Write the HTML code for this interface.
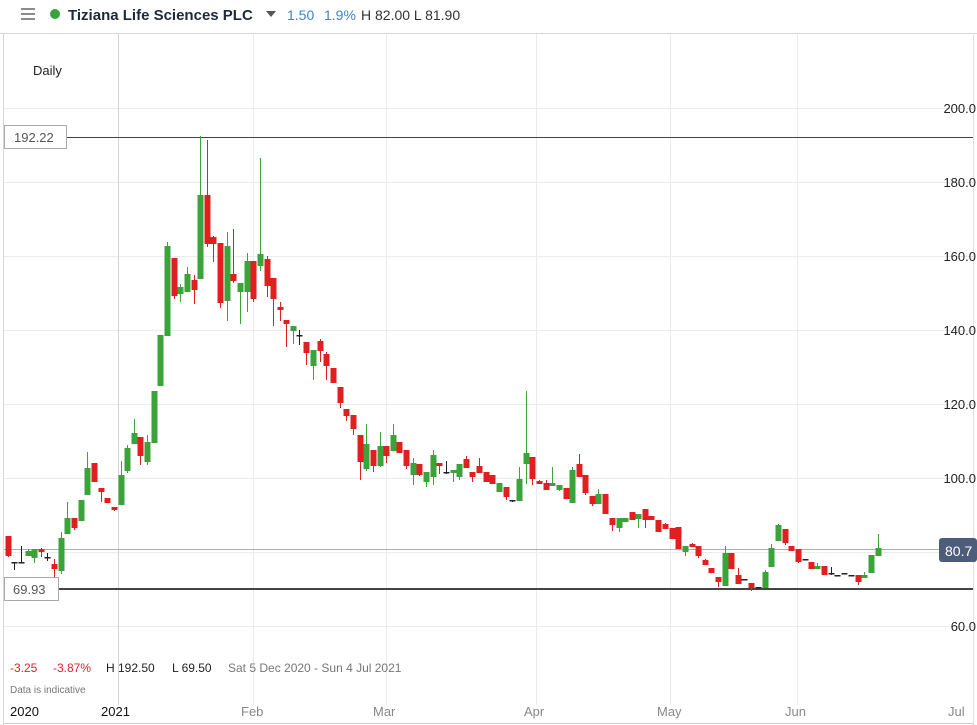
<!DOCTYPE html>
<html><head><meta charset="utf-8"><style>
body{margin:0;background:#fff;width:977px;height:725px;overflow:hidden;font-family:"Liberation Sans",sans-serif}
svg{position:absolute;left:0;top:0}
</style></head><body>
<svg id="s" width="977" height="725" xmlns="http://www.w3.org/2000/svg" font-family="Liberation Sans, sans-serif">
<rect width="977" height="725" fill="#fff"/>
<line x1="0" y1="33.5" x2="977" y2="33.5" stroke="#d8d8d8"/>
<line x1="3.5" y1="33" x2="3.5" y2="725" stroke="#d8d8d8"/>
<line x1="973.5" y1="33" x2="973.5" y2="725" stroke="#e0e0e0"/>
<g stroke="#666" stroke-width="1.5"><line x1="21" y1="9" x2="35" y2="9"/><line x1="21" y1="14" x2="35" y2="14"/><line x1="21" y1="19" x2="35" y2="19"/></g>
<circle cx="55" cy="14" r="5" fill="#3aa33a"/>
<text x="68" y="20" font-size="15" font-weight="bold" fill="#1e2a3a">Tiziana Life Sciences PLC</text>
<path d="M266 11 L276 11 L271 17 Z" fill="#555"/>
<text x="287" y="20" font-size="14" fill="#3d85c6">1.50</text>
<text x="324" y="20" font-size="14" fill="#3d85c6">1.9%</text>
<text x="361" y="20" font-size="14" fill="#333">H 82.00  L 81.90</text>
<text x="33" y="75" font-size="13" fill="#222">Daily</text>
<g stroke="#ebebeb" stroke-width="1">
<line x1="4" y1="108.5" x2="973" y2="108.5"/><line x1="4" y1="182.5" x2="973" y2="182.5"/><line x1="4" y1="256.5" x2="973" y2="256.5"/><line x1="4" y1="330.5" x2="973" y2="330.5"/><line x1="4" y1="404.5" x2="973" y2="404.5"/><line x1="4" y1="478.5" x2="973" y2="478.5"/><line x1="4" y1="552.5" x2="973" y2="552.5"/><line x1="4" y1="626.5" x2="973" y2="626.5"/>
<line x1="253.5" y1="34" x2="253.5" y2="705"/><line x1="386.5" y1="34" x2="386.5" y2="705"/><line x1="536.5" y1="34" x2="536.5" y2="705"/><line x1="670.5" y1="34" x2="670.5" y2="705"/><line x1="797.5" y1="34" x2="797.5" y2="705"/>
</g>
<line x1="118.5" y1="34" x2="118.5" y2="705" stroke="#d4d4d4"/>
<g font-size="13" fill="#222" text-anchor="end">
<text x="976" y="113">200.0</text><text x="976" y="187">180.0</text><text x="976" y="261">160.0</text><text x="976" y="335">140.0</text><text x="976" y="409">120.0</text><text x="976" y="483">100.0</text><text x="976" y="631">60.0</text>
</g>
<line x1="66" y1="137.5" x2="973" y2="137.5" stroke="#444" stroke-width="1"/>
<rect x="4.5" y="125.5" width="62" height="23" fill="#fff" stroke="#aaa"/>
<text x="14" y="142" font-size="13" fill="#555">192.22</text>
<line x1="4" y1="549.5" x2="940" y2="549.5" stroke="#b0b0b0"/>
<line x1="58" y1="589" x2="973" y2="589" stroke="#444" stroke-width="2"/>
<g id="c"></g>
<rect x="4.5" y="577.5" width="54" height="23" fill="#fff" stroke="#aaa"/>
<text x="13" y="594" font-size="13" fill="#555">69.93</text>
<rect x="939" y="538" width="38" height="24" rx="3" fill="#4d5c78"/>
<text x="945" y="556" font-size="14" fill="#fff">80.7</text>
<text x="10" y="672" font-size="12" fill="#d9262e">-3.25</text>
<text x="53" y="672" font-size="12" fill="#d9262e">-3.87%</text>
<text x="106" y="672" font-size="12" fill="#222">H 192.50</text>
<text x="172" y="672" font-size="12" fill="#222">L 69.50</text>
<text x="228" y="672" font-size="12" fill="#777">Sat 5 Dec 2020 - Sun 4 Jul 2021</text>
<text x="10" y="693" font-size="10" fill="#777">Data is indicative</text>
<g font-size="13"><text x="10" y="716" fill="#111">2020</text><text x="101" y="716" fill="#111">2021</text><text x="241" y="716" fill="#888">Feb</text><text x="373" y="716" fill="#888">Mar</text><text x="524" y="716" fill="#888">Apr</text><text x="657" y="716" fill="#888">May</text><text x="785" y="716" fill="#888">Jun</text><text x="948" y="716" fill="#888">Jul</text></g>
<line x1="4" y1="723.5" x2="973" y2="723.5" stroke="#ccc"/>
</svg>
<script>
var d=[[8,'r',536,556,536,557],[14,'k',562,563,562,570],[21,'k',562,563,546,563],[28,'g',551,556,549,556],[34,'g',549,558,549,563],[41,'r',549,552,548,557],[47,'k',557,558,553,561],[54,'r',564,569,559,579],[61,'g',538,571,532,574],[67,'g',518,534,502,534],[74,'r',518,528,518,530],[81,'g',500,521],[87,'g',468,495,452,495],[94,'r',463,482],[101,'r',488,492,488,502],[107,'r',498,503],[114,'r',507,510,507,511],[121,'g',475,505,461,505],[127,'g',448,471,445,473],[134,'g',433,444,419,444],[140,'r',437,456,437,465],[147,'g',442,462,435,465],[154,'g',391,443],[160,'g',335,386],[167,'g',246,336,242,336],[174,'r',258,296,258,299],[180,'g',287,294,284,302],[187,'g',274,292,267,292],[194,'r',280,290,275,304],[200,'g',195,279,136,279],[207,'r',195,244,140,247],[213,'r',237,244,236,262],[220,'r',243,303,243,308],[227,'g',246,301,232,321],[233,'r',274,281,229,283],[240,'g',283,292,283,324],[247,'g',261,292,253,312],[253,'r',261,299,261,302],[260,'g',254,266,158,271],[267,'r',259,286,256,297],[273,'r',278,299,278,326],[280,'r',307,310,302,321],[286,'r',320,324,320,347],[293,'g',326,331,326,344],[299,'k',335,336,330,345],[306,'r',342,353,342,365],[313,'g',350,366,350,380],[320,'r',341,351,339,362],[326,'r',354,366,352,380],[333,'r',368,383],[340,'r',387,403,387,408],[346,'r',409,416,409,421],[353,'r',415,429,415,435],[360,'r',435,462,435,480],[366,'g',444,469,424,471],[373,'r',450,466,450,472],[380,'g',446,466,432,467],[386,'r',446,456,446,463],[393,'g',435,451,424,451],[399,'r',442,453],[406,'r',450,466,450,469],[413,'g',463,475,458,485],[419,'r',464,475,464,476],[426,'g',472,482,472,487],[433,'g',455,477,450,485],[439,'r',463,466,463,474],[446,'k',472,473,461,474],[453,'g',470,473,470,482],[459,'g',464,477,464,480],[466,'r',459,468,456,468],[472,'r',472,477,472,482],[479,'r',466,473,458,473],[486,'r',472,482],[492,'r',475,484],[499,'g',483,492],[506,'r',487,497,487,500],[512,'k',500,501,500,502],[519,'g',479,501,467,501],[526,'g',453,464,391,484],[532,'r',457,479,457,485],[539,'r',481,484,480,484],[546,'r',483,490,480,490],[552,'g',483,486,467,486],[559,'g',485,490,485,491],[566,'r',488,499],[572,'g',470,503,467,503],[579,'r',464,477,454,477],[585,'r',475,493,475,495],[592,'r',496,504,496,506],[598,'g',494,504,489,504],[605,'r',494,514],[612,'r',518,525,518,531],[619,'g',518,528,518,532],[625,'g',518,522],[632,'r',512,520],[638,'g',514,519,514,528],[645,'r',509,520,509,528],[651,'r',516,520],[658,'r',520,532],[665,'r',524,529,523,529],[672,'r',528,539],[678,'r',527,549],[685,'g',546,552,546,556],[692,'r',544,547,543,547],[698,'r',546,556,546,558],[705,'r',560,565,559,565],[711,'r',568,573],[718,'r',577,582,577,587],[725,'g',553,586,546,586],[731,'r',553,569],[738,'r',575,584,568,584],[744,'k',579,580],[751,'r',583,588,583,591],[758,'k',587,588],[765,'g',572,588,570,588],[771,'g',548,567,544,567],[778,'g',525,541,524,541],[785,'r',529,543,529,545],[791,'r',546,551],[798,'r',549,562,549,563],[805,'k',559,560],[811,'r',562,569],[817,'g',566,569,563,569],[824,'r',566,575],[831,'k',573,574,567,575],[837,'k',575,576],[844,'k',573,574],[851,'k',575,576],[858,'r',575,582,575,585],[864,'g',575,578,572,578],[871,'g',555,573],[878,'g',548,556,534,556]];
var col={g:'#3aa33a',r:'#e02020',k:'#222'},h='';
d.forEach(function(a){var x=a[0],c=col[a[1]],bt=a[2],bb=a[3],wt=a.length>4?a[4]:bt,wb=a.length>4?a[5]:bb;
h+='<line x1="'+(x+0.5)+'" y1="'+wt+'" x2="'+(x+0.5)+'" y2="'+wb+'" stroke="'+c+'" stroke-width="1"/>';
h+='<rect x="'+(x-2.5)+'" y="'+bt+'" width="6" height="'+Math.max(1.5,bb-bt)+'" fill="'+c+'"/>';});
document.getElementById('c').innerHTML=h;
</script>
</body></html>
